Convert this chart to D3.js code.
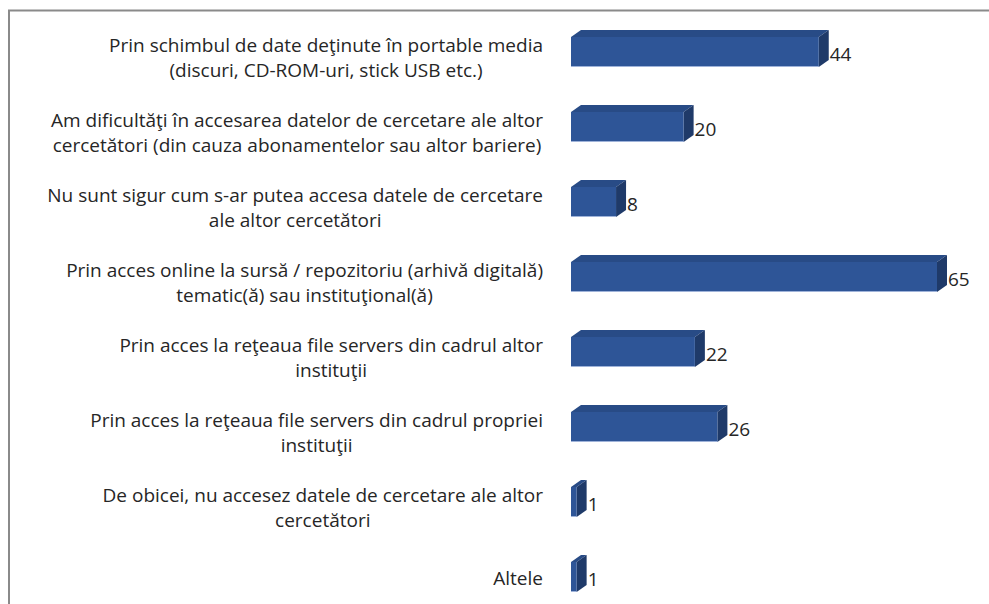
<!DOCTYPE html>
<html>
<head>
<meta charset="utf-8">
<script src="https://cdn.jsdelivr.net/npm/d3@7"></script>
<style>
  body { margin: 0; background: #fff; }
  svg { display: block; }
</style>
</head>
<body>
<div id="chart"></div>
<script>
// categories, top to bottom (each entry is the wrapped lines of one label)
const categories = [
    ["Prin schimbul de date deţinute în portable media", "(discuri, CD-ROM-uri, stick USB etc.)"],
    ["Am dificultăţi în accesarea datelor de cercetare ale altor", "cercetători (din cauza abonamentelor sau altor bariere)"],
    ["Nu sunt sigur cum s-ar putea accesa datele de cercetare", "ale altor cercetători"],
    ["Prin acces online la sursă / repozitoriu (arhivă digitală)", "tematic(ă) sau instituţional(ă)"],
    ["Prin acces la reţeaua file servers din cadrul altor", "instituţii"],
    ["Prin acces la reţeaua file servers din cadrul propriei ", "instituţii"],
    ["De obicei, nu accesez datele de cercetare ale altor", "cercetători"],
    ["Altele"]
];
const values = [44, 20, 8, 65, 22, 26, 1, 1];

const width = 989;
const height = 604;

const svg = d3.select("#chart")
    .append("svg")
    .attr("width", width)
    .attr("height", height);

// frame (only top and left edges are visible in the crop)
svg.append("rect")
    .attr("x", 9)
    .attr("y", 10.5)
    .attr("width", width + 20)
    .attr("height", height + 20)
    .attr("fill", "none")
    .attr("stroke", "#8a8a8a")
    .attr("stroke-width", 2);

const x = d3.scaleLinear().domain([0, 65]).range([571, 937]);
const y = d3.scalePoint().domain(d3.range(categories.length)).range([52, 577]);

const barH = 30;
const dx = 10, dy = -7;   // 3D depth

const bars = svg.append("g").selectAll("g")
    .data(values)
    .join("g");

// top face
bars.append("path")
    .attr("fill", "#284b86")
    .attr("d", (d, i) => {
        const x0 = x(0), x1 = x(d), t = y(i) - barH / 2;
        return `M${x0},${t}L${x0 + dx},${t + dy}L${x1 + dx},${t + dy}L${x1},${t}Z`;
    });

// side face
bars.append("path")
    .attr("fill", "#1f3a69")
    .attr("d", (d, i) => {
        const x1 = x(d), t = y(i) - barH / 2, b = y(i) + barH / 2;
        return `M${x1},${t}L${x1 + dx},${t + dy}L${x1 + dx},${b + dy}L${x1},${b}Z`;
    });

// front face
bars.append("rect")
    .attr("x", x(0))
    .attr("y", (d, i) => y(i) - barH / 2)
    .attr("width", d => x(d) - x(0))
    .attr("height", barH)
    .attr("fill", "#2e5597");

// light lower edge
bars.append("line")
    .attr("x1", x(0))
    .attr("x2", d => x(d))
    .attr("y1", (d, i) => y(i) + barH / 2 - 0.5)
    .attr("y2", (d, i) => y(i) + barH / 2 - 0.5)
    .attr("stroke", "#9fb3d9")
    .attr("stroke-width", 1);

// value labels
bars.append("text")
    .attr("x", d => x(d) + dx + 1)
    .attr("y", (d, i) => y(i) + 2)
    .attr("dy", ".35em")
    .style("font-family", "'Open Sans', sans-serif")
    .style("font-size", "19px")
    .style("fill", "#262626")
    .text(d => d);

// category labels: lines centred on each other, block right aligned
const labelRight = 543;
const lineH = 25;
const labels = svg.append("g");
categories.forEach((lines, i) => {
    const g = labels.append("g");
    const texts = lines.map((line, k) => {
        const off = (k - (lines.length - 1) / 2) * lineH + (lines.length > 1 ? 6 : 1);
        return g.append("text")
            .attr("y", y(i) + off)
            .attr("dy", ".35em")
            .attr("text-anchor", "middle")
            .style("font-family", "'Open Sans', sans-serif")
            .style("font-size", "19px")
            .style("fill", "#262626")
            .text(line);
    });
    const maxW = d3.max(texts, t => t.node().getComputedTextLength());
    texts.forEach(t => t.attr("x", labelRight - maxW / 2));
});
</script>
</body>
</html>
